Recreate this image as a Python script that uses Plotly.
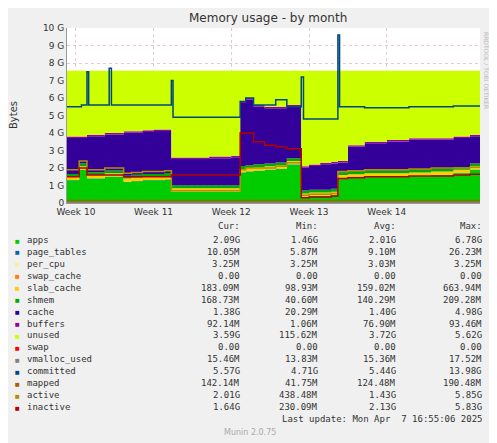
import plotly.graph_objects as go

# days since start of Week 10
days = [-0.8, 0.3, 1.0, 2.6, 3.0, 4.3, 5.0, 6.0, 7.0, 8.0, 8.6, 10.0, 12.0, 14.0, 14.8, 15.3, 16.0,
        17.0, 18.0, 19.0, 20.3, 21.0, 22.0, 23.0, 23.6, 24.5, 26.0, 28.0, 30.0, 32.0, 34.0, 35.5, 36.4]

apps = [1.3, 1.9, 1.4, 1.5, 1.5, 1.2, 1.25, 1.3, 1.3, 1.35, 0.65, 0.65, 0.65, 0.65, 1.75, 1.8, 1.85,
        1.9, 1.95, 2.2, 0.35, 0.4, 0.4, 0.45, 1.4, 1.45, 1.5, 1.5, 1.55, 1.6, 1.7, 1.9, 1.9]
page_tables = [0.01] * 33
per_cpu = [0.003] * 33
swap_cache = [0.0] * 33
slab_cache = [0.18] * 33
shmem = [0.17] * 33
cache = [2.05, 1.45, 2.05, 2.05, 2.05, 2.45, 2.4, 2.4, 2.45, 2.4, 1.5, 1.5, 1.55, 1.6, 3.6, 3.75, 3.3,
         3.15, 3.1, 2.95, 1.3, 1.35, 1.45, 1.45, 0.55, 1.4, 1.55, 1.65, 1.7, 1.65, 1.65, 1.55, 1.55]
buffers = [0.09] * 33
unused = [3.75, 3.75, 3.65, 3.55, 3.55, 3.45, 3.45, 3.4, 3.35, 3.35, 4.95, 4.95, 4.9, 4.85, 1.75, 1.55, 1.95,
          2.05, 2.05, 1.95, 5.45, 5.35, 5.25, 5.2, 5.15, 4.25, 4.05, 3.95, 3.85, 3.85, 3.75, 3.65, 3.65]
swap = [0.0] * 33
vmalloc_used = [0.015] * 33
mapped = [0.14] * 33
active = [1.9, 2.4, 1.9, 2.0, 2.0, 1.7, 1.75, 1.8, 1.8, 1.85, 0.7, 0.7, 0.7, 0.7, 1.9, 2.0, 2.0,
          2.0, 2.1, 2.3, 0.45, 0.5, 0.5, 0.55, 1.8, 1.85, 1.9, 1.9, 1.95, 2.0, 2.0, 2.05, 2.05]
inactive = [1.5, 2.0, 1.6, 1.6, 1.6, 1.5, 1.5, 1.5, 1.5, 1.5, 1.6, 1.6, 1.6, 1.6, 4.0, 4.0, 3.5,
            3.3, 3.2, 3.1, 0.3, 0.35, 0.35, 0.4, 1.4, 1.45, 1.5, 1.5, 1.55, 1.55, 1.6, 1.65, 1.65]

committed_days = [-0.8, 0.5, 1.0, 1.15, 3.0, 3.2, 4.0, 8.6, 8.75, 14.8, 15.3, 16.0, 18.0, 19.0,
                  20.3, 20.5, 23.6, 23.75, 26.0, 30.0, 34.0, 36.4]
committed = [5.5, 5.6, 7.5, 5.6, 7.7, 5.6, 5.6, 7.0, 4.9, 5.8, 6.0, 5.6, 5.9, 5.5,
             7.2, 4.8, 9.6, 5.5, 5.45, 5.5, 5.55, 5.5]

week_pos = [0, 7, 14, 21, 28]
week_labels = ["Week 10", "Week 11", "Week 12", "Week 13", "Week 14"]

rows = [
    ("apps", "#00CC00", "2.09G", "1.46G", "2.01G", "6.78G"),
    ("page_tables", "#0066B3", "10.05M", "5.87M", "9.10M", "26.23M"),
    ("per_cpu", "#FFEE99", "3.25M", "3.25M", "3.03M", "3.25M"),
    ("swap_cache", "#FF8000", "0.00", "0.00", "0.00", "0.00"),
    ("slab_cache", "#FFCC00", "183.09M", "98.93M", "159.02M", "663.94M"),
    ("shmem", "#00AA00", "168.73M", "40.60M", "140.29M", "209.28M"),
    ("cache", "#330099", "1.38G", "20.29M", "1.40G", "4.98G"),
    ("buffers", "#990099", "92.14M", "1.06M", "76.90M", "93.46M"),
    ("unused", "#CCFF00", "3.59G", "115.62M", "3.72G", "5.62G"),
    ("swap", "#FF0000", "0.00", "0.00", "0.00", "0.00"),
    ("vmalloc_used", "#808080", "15.46M", "13.83M", "15.36M", "17.52M"),
    ("committed", "#00487D", "5.57G", "4.71G", "5.44G", "13.98G"),
    ("mapped", "#B35A00", "142.14M", "41.75M", "124.48M", "190.48M"),
    ("active", "#B38F00", "2.01G", "438.48M", "1.43G", "5.85G"),
    ("inactive", "#B30000", "1.64G", "230.09M", "2.13G", "5.83G"),
]
col = {r[0]: r[1] for r in rows}

fig = go.Figure()
for name, vals in [("apps", apps), ("page_tables", page_tables), ("per_cpu", per_cpu),
                   ("swap_cache", swap_cache), ("slab_cache", slab_cache), ("shmem", shmem),
                   ("cache", cache), ("buffers", buffers), ("unused", unused)]:
    fig.add_trace(go.Scatter(x=days, y=vals, stackgroup="s", line_shape="hv", mode="lines",
                             line=dict(width=0, color=col[name]), fillcolor=col[name], name=name))
for name, xs, vals in [("swap", days, swap), ("vmalloc_used", days, vmalloc_used),
                       ("committed", committed_days, committed), ("mapped", days, mapped),
                       ("active", days, active), ("inactive", days, inactive)]:
    fig.add_trace(go.Scatter(x=xs, y=vals, line_shape="hv", mode="lines",
                             line=dict(width=1.5, color=col[name]), name=name))

# positions below are in screen pixels of the reference; the page adds an 8px body margin
F = "DejaVu Sans Mono"
ann = [
    dict(x=268, y=18, text="Memory usage - by month", font=dict(size=12, family="DejaVu Sans", color="#333")),
    dict(x=13, y=115, text="Bytes", textangle=-90, font=dict(size=10, family="DejaVu Sans", color="#333")),
    dict(x=487, y=70, text="RRDTOOL / TOBI OETIKER", textangle=90, font=dict(size=6, family="DejaVu Sans", color="#bbb")),
]
for h, xx in [("Cur:", 242), ("Min:", 320), ("Avg:", 398), ("Max:", 484)]:
    ann.append(dict(x=xx, y=226, text=h, xanchor="right", font=dict(size=9, family=F, color="#333")))
for i, (n, c, cu, mi, av, ma) in enumerate(rows):
    y = 240 + i * 11.93
    ann.append(dict(x=17, y=y, text="■", font=dict(size=8, color=c)))
    ann.append(dict(x=25, y=y, text=n, xanchor="left", font=dict(size=9, family=F, color="#333")))
    for v, xx in [(cu, 242), (mi, 320), (av, 398), (ma, 484)]:
        ann.append(dict(x=xx, y=y, text=v, xanchor="right", font=dict(size=9, family=F, color="#333")))
ann.append(dict(x=484, y=419, text="Last update: Mon Apr  7 16:55:06 2025", xanchor="right",
                font=dict(size=9, family=F, color="#333")))
ann.append(dict(x=250, y=432, text="Munin 2.0.75", font=dict(size=8, family="DejaVu Sans", color="#aaa")))
for a in ann:
    a.update(xref="paper", yref="paper", showarrow=False, yanchor="middle")
    a["x"] = (a["x"] - 67) / 413
    a["y"] = (203 - a["y"]) / 175
    a.setdefault("xanchor", "center")

fig.update_layout(
    width=489, height=435, margin=dict(l=59, r=17, t=20, b=240),
    paper_bgcolor="#F0F0F0", plot_bgcolor="#FFFFFF", showlegend=False, annotations=ann,
    xaxis=dict(range=[-0.8, 36.4], tickvals=week_pos, ticktext=week_labels, showgrid=True,
               gridcolor="#E8C8C8", griddash="dot", tickfont=dict(size=9, family="DejaVu Sans", color="#333"),
               zeroline=False, showline=True, linecolor="#999"),
    yaxis=dict(range=[0, 10], tickvals=list(range(11)),
               ticktext=["0"] + [f"{i} G" for i in range(1, 11)], showgrid=True,
               gridcolor="#E8C8C8", griddash="dot", tickfont=dict(size=9, family="DejaVu Sans", color="#333"),
               zeroline=False, showline=True, linecolor="#999"),
)
fig.write_html("out.html")
